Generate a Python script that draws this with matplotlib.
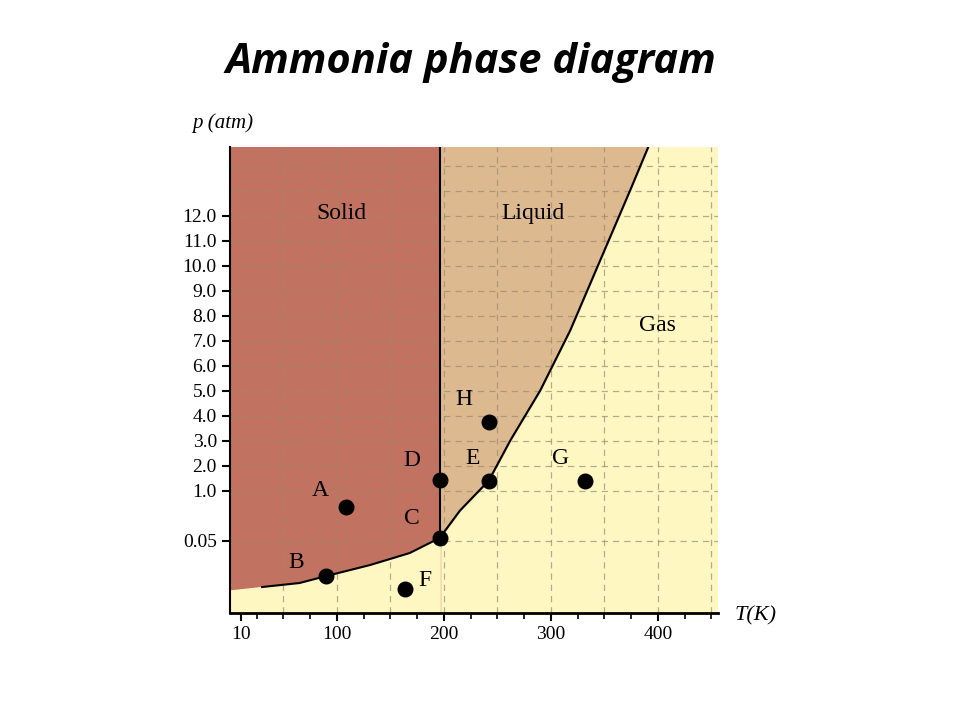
import numpy as np
import matplotlib.pyplot as plt

# pressure tick labels and their (non-linear) positions on the drawn axis
p_labels = ["0.05", "1.0", "2.0", "3.0", "4.0", "5.0", "6.0", "7.0", "8.0", "9.0", "10.0", "11.0", "12.0"]
p_pos = [2.9, 4.9, 5.9, 6.9, 7.9, 8.9, 9.9, 10.9, 11.9, 12.9, 13.9, 14.9, 15.9]
t_ticks = [10, 100, 200, 300, 400]

# phase boundaries (T in K, axis position)
subl_T = [30, 65, 90, 131, 168, 196]
subl_y = [1.04, 1.2, 1.48, 1.92, 2.4, 3.0]
vap_T = [196, 215, 242, 262, 290, 318, 346, 374, 391]
vap_y = [3.0, 4.1, 5.3, 6.9, 8.9, 11.3, 14.1, 16.9, 18.64]
melt_T = 196

points = ["A", "B", "C", "D", "E", "F", "G", "H"]
pt_T = [108, 90, 196, 196, 242, 164, 332, 242]
pt_y = [4.24, 1.48, 3.0, 5.32, 5.28, 0.96, 5.28, 7.64]
lbl_off = [(-18, 12), (-22, 10), (-20, 14), (-20, 14), (-12, 16), (14, 6), (-18, 16), (-18, 16)]

XMAX, YMAX = 456, 18.64
solid_c, liquid_c, gas_c = "#c27260", "#ddb98f", "#fff7c2"

fig = plt.figure(figsize=(9.6, 7.2), dpi=100)
ax = fig.add_axes([0.2396, 0.1486, 0.508, 0.647])
ax.set_xlim(0, XMAX)
ax.set_ylim(0, YMAX)

ax.axvspan(0, XMAX, color=gas_c, zorder=0)
ax.axvspan(0, melt_T, color=solid_c, zorder=0)
ax.fill_between(subl_T, subl_y, 0, color=gas_c, zorder=0)
ax.fill_between([0, subl_T[0]], [0, 0], [0.9, subl_y[0]], color=gas_c, zorder=0)
ax.fill_betweenx(vap_y, melt_T, vap_T, color=liquid_c, zorder=0)

for x in range(50, XMAX, 50):
    ax.axvline(x, color="#9a8a70", ls=(0, (5, 4)), lw=0.9, alpha=0.7, zorder=1)
for y in p_pos + [16.9, 17.9]:
    ax.axhline(y, color="#9a8a70", ls=(0, (5, 4)), lw=0.9, alpha=0.7, zorder=1)

ax.plot(subl_T, subl_y, color="black", lw=1.5, zorder=2)
ax.plot(vap_T, vap_y, color="black", lw=1.5, zorder=2)
ax.plot([melt_T, melt_T], [3.0, YMAX], color="black", lw=1.5, zorder=2)

ax.scatter(pt_T, pt_y, s=110, color="black", zorder=3)
for name, t, y, (dx, dy) in zip(points, pt_T, pt_y, lbl_off):
    ax.annotate(name, (t, y), xytext=(dx, dy), textcoords="offset points",
                ha="center", va="center", fontsize=17, family="Liberation Serif")

ax.text(104, 16.0, "Solid", fontsize=17, family="Liberation Serif", ha="center", va="center")
ax.text(283, 16.0, "Liquid", fontsize=17, family="Liberation Serif", ha="center", va="center")
ax.text(400, 11.5, "Gas", fontsize=17, family="Liberation Serif", ha="center", va="center")

ax.set_yticks(p_pos)
ax.set_yticklabels(p_labels)
ax.set_xticks(t_ticks)
ax.set_xticks(range(25, XMAX, 25), minor=True)
ax.tick_params(labelsize=14, width=1.5, length=6)
ax.tick_params(which="minor", length=4, width=1.2)
for lab in ax.get_xticklabels() + ax.get_yticklabels():
    lab.set_family("Liberation Serif")
for s in ["top", "right"]:
    ax.spines[s].set_visible(False)
ax.spines["bottom"].set_linewidth(2)
ax.spines["left"].set_linewidth(1.5)

fig.text(0.232, 0.822, "p (atm)", fontsize=15, family="Liberation Serif", style="italic", ha="center")
fig.text(0.787, 0.138, "T(K)", fontsize=16, family="Liberation Serif", style="italic", ha="center")
fig.text(0.49, 0.913, "Ammonia phase diagram", fontsize=30, weight="bold", style="italic",
         family="Open Sans", ha="center", va="center")

fig.savefig("out.png")
